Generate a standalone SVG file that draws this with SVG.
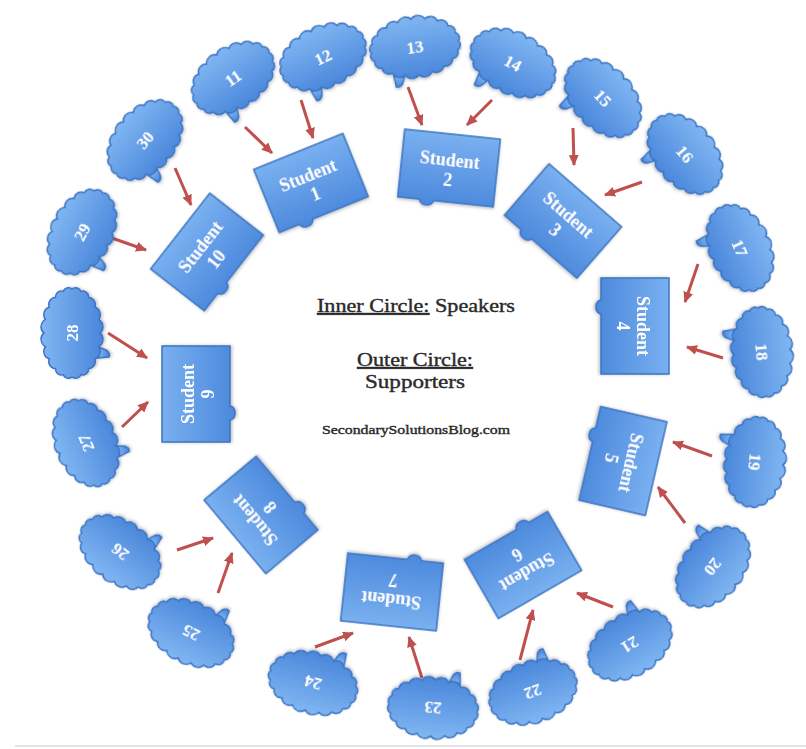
<svg xmlns="http://www.w3.org/2000/svg" width="806" height="749" viewBox="0 0 806 749">
<style>
.shape{stroke:#3d74c2;stroke-width:1.5}
.box{fill:url(#gb)}
.cl{fill:url(#gc)}
.node{filter:url(#sh)}
.lbl{font-family:"Liberation Serif","DejaVu Serif",serif;font-weight:bold;fill:#ffffff;text-anchor:middle;font-size:18px}
.num{font-size:17px}
.arrow{stroke:#c0504d;stroke-width:3;fill:none;marker-end:url(#ah)}
.ctr{font-family:"Liberation Serif","DejaVu Serif",serif;fill:#2a2a2a;stroke:#2a2a2a;stroke-width:0.4;text-anchor:middle}
</style>
<defs>
<filter id="sh" x="-20%" y="-20%" width="140%" height="140%">
<feDropShadow dx="0" dy="1.5" stdDeviation="1.5" flood-color="#000000" flood-opacity="0.25"/>
</filter>
<linearGradient id="gb" x1="0" y1="0" x2="0" y2="1">
<stop offset="0" stop-color="#79b0f0"/>
<stop offset="1" stop-color="#4b88dc"/>
</linearGradient>
<linearGradient id="gc" x1="0" y1="0" x2="0" y2="1">
<stop offset="0" stop-color="#80b6f2"/>
<stop offset="1" stop-color="#4a87db"/>
</linearGradient>
<marker id="ah" markerWidth="11" markerHeight="10" refX="10" refY="5" orient="auto" markerUnits="userSpaceOnUse" viewBox="0 0 11 10">
<path d="M0,0 L11,5 L0,10 Z" fill="#c0504d"/>
</marker>
<path id="boxShape" class="shape box" d="M-48,-34 H48 V34 H-12 A7,5 0 0 1 -26,34 H-48 Z"/>
<g id="cloud">
<path class="shape cl" d="M-25,26 L-24,37 Q-20,38.5 -17,34 L-14,27 Z"/>
<path class="shape cl" d="M44,0 A5.5,5.5 0 0 1 41.8,8.7 A6,6 0 0 1 35.6,16.5 A7,7 0 0 1 25.9,22.7 A7.8,7.8 0 0 1 13.6,26.6 A8.3,8.3 0 0 1 0,28 A8.3,8.3 0 0 1 -13.6,26.6 A7.8,7.8 0 0 1 -25.9,22.7 A7,7 0 0 1 -35.6,16.5 A6,6 0 0 1 -41.8,8.7 A5.5,5.5 0 0 1 -44,0 A5.5,5.5 0 0 1 -41.8,-8.7 A6,6 0 0 1 -35.6,-16.5 A7,7 0 0 1 -25.9,-22.7 A7.8,7.8 0 0 1 -13.6,-26.6 A8.3,8.3 0 0 1 0,-28 A8.3,8.3 0 0 1 13.6,-26.6 A7.8,7.8 0 0 1 25.9,-22.7 A7,7 0 0 1 35.6,-16.5 A6,6 0 0 1 41.8,-8.7 A5.5,5.5 0 0 1 44,0 Z"/>
</g>
</defs>
<rect x="0" y="0" width="806" height="749" fill="#ffffff"/>
<line x1="15" y1="746" x2="806" y2="746" stroke="#e2e2e2" stroke-width="2"/>

<g id="connectors">
<line class="arrow" x1="245" y1="127" x2="272" y2="153"/>
<line class="arrow" x1="301" y1="100" x2="313" y2="138"/>
<line class="arrow" x1="408" y1="87" x2="422" y2="125"/>
<line class="arrow" x1="492" y1="100" x2="467" y2="125"/>
<line class="arrow" x1="573" y1="128" x2="574" y2="165"/>
<line class="arrow" x1="642" y1="182" x2="605" y2="195"/>
<line class="arrow" x1="698" y1="264" x2="685" y2="302"/>
<line class="arrow" x1="723" y1="358" x2="687" y2="347"/>
<line class="arrow" x1="712" y1="456" x2="673" y2="442"/>
<line class="arrow" x1="685" y1="523" x2="658" y2="487"/>
<line class="arrow" x1="613" y1="607" x2="577" y2="593"/>
<line class="arrow" x1="520" y1="660" x2="533" y2="610"/>
<line class="arrow" x1="422" y1="678" x2="409" y2="637"/>
<line class="arrow" x1="315" y1="647" x2="353" y2="633"/>
<line class="arrow" x1="218" y1="593" x2="232" y2="553"/>
<line class="arrow" x1="177" y1="550" x2="213" y2="538"/>
<line class="arrow" x1="122" y1="427" x2="148" y2="402"/>
<line class="arrow" x1="108" y1="333" x2="147" y2="358"/>
<line class="arrow" x1="109" y1="237" x2="146" y2="250"/>
<line class="arrow" x1="175" y1="168" x2="191" y2="205"/>
</g>

<g id="s1" class="node" transform="translate(311,183) rotate(-22)"><use href="#boxShape"/><text class="lbl" y="-2">Student</text><text class="lbl" y="18">1</text></g>
<g id="s2" class="node" transform="translate(449,168) rotate(6)"><use href="#boxShape"/><text class="lbl" y="-2">Student</text><text class="lbl" y="18">2</text></g>
<g id="s3" class="node" transform="translate(563,221) rotate(41)"><use href="#boxShape"/><text class="lbl" y="-2">Student</text><text class="lbl" y="18">3</text></g>
<g id="s4" class="node" transform="translate(635,326) rotate(90)"><use href="#boxShape"/><text class="lbl" y="-2">Student</text><text class="lbl" y="18">4</text></g>
<g id="s5" class="node" transform="translate(623,461) rotate(103)"><use href="#boxShape"/><text class="lbl" y="-2">Student</text><text class="lbl" y="18">5</text></g>
<g id="s6" class="node" transform="translate(523,565) rotate(150)"><use href="#boxShape"/><text class="lbl" y="-2">Student</text><text class="lbl" y="18">6</text></g>
<g id="s7" class="node" transform="translate(392,592) rotate(186)"><use href="#boxShape"/><text class="lbl" y="-2">Student</text><text class="lbl" y="18">7</text></g>
<g id="s8" class="node" transform="translate(261,515) rotate(230)"><use href="#boxShape"/><text class="lbl" y="-2">Student</text><text class="lbl" y="18">8</text></g>
<g id="s9" class="node" transform="translate(196,394) rotate(270)"><use href="#boxShape"/><text class="lbl" y="-2">Student</text><text class="lbl" y="18">9</text></g>
<g id="s10" class="node" transform="translate(207,252) rotate(-52)"><use href="#boxShape"/><text class="lbl" y="-2">Student</text><text class="lbl" y="18">10</text></g>

<g id="c11" class="node" transform="translate(233,78) rotate(-35)"><use href="#cloud"/><text class="lbl num" y="6">11</text></g>
<g id="c12" class="node" transform="translate(323,57) rotate(-25)"><use href="#cloud"/><text class="lbl num" y="6">12</text></g>
<g id="c13" class="node" transform="translate(415,47) rotate(-8)"><use href="#cloud"/><text class="lbl num" y="6">13</text></g>
<g id="c14" class="node" transform="translate(513,63) rotate(28)"><use href="#cloud"/><text class="lbl num" y="6">14</text></g>
<g id="c15" class="node" transform="translate(603,98) rotate(47)"><use href="#cloud"/><text class="lbl num" y="6">15</text></g>
<g id="c16" class="node" transform="translate(685,154) rotate(50)"><use href="#cloud"/><text class="lbl num" y="6">16</text></g>
<g id="c17" class="node" transform="translate(740,248) rotate(66)"><use href="#cloud"/><text class="lbl num" y="6">17</text></g>
<g id="c18" class="node" transform="translate(762,352) rotate(85)"><use href="#cloud"/><text class="lbl num" y="6">18</text></g>
<g id="c19" class="node" transform="translate(755,462) rotate(96)"><use href="#cloud"/><text class="lbl num" y="6">19</text></g>
<g id="c20" class="node" transform="translate(713,567) rotate(128)"><use href="#cloud"/><text class="lbl num" y="6">20</text></g>
<g id="c21" class="node" transform="translate(630,645) rotate(148)"><use href="#cloud"/><text class="lbl num" y="6">21</text></g>
<g id="c22" class="node" transform="translate(533,692) rotate(160)"><use href="#cloud"/><text class="lbl num" y="6">22</text></g>
<g id="c23" class="node" transform="translate(433,708) rotate(185)"><use href="#cloud"/><text class="lbl num" y="6">23</text></g>
<g id="c24" class="node" transform="translate(313,683) rotate(196)"><use href="#cloud"/><text class="lbl num" y="6">24</text></g>
<g id="c25" class="node" transform="translate(191,633) rotate(207)"><use href="#cloud"/><text class="lbl num" y="6">25</text></g>
<g id="c26" class="node" transform="translate(120,552) rotate(218)"><use href="#cloud"/><text class="lbl num" y="6">26</text></g>
<g id="c27" class="node" transform="translate(86,443) rotate(248)"><use href="#cloud"/><text class="lbl num" y="6">27</text></g>
<g id="c28" class="node" transform="translate(72,333) rotate(270)"><use href="#cloud"/><text class="lbl num" y="6">28</text></g>
<g id="c29" class="node" transform="translate(82,232) rotate(-62)"><use href="#cloud"/><text class="lbl num" y="6">29</text></g>
<g id="c30" class="node" transform="translate(145,140) rotate(-50)"><use href="#cloud"/><text class="lbl num" y="6">30</text></g>

<g id="center-text">
<text class="ctr" x="416" y="312" font-size="19" textLength="198" lengthAdjust="spacingAndGlyphs"><tspan text-decoration="underline">Inner Circle:</tspan> Speakers</text>
<text class="ctr" x="415" y="366" font-size="19" text-decoration="underline" textLength="116" lengthAdjust="spacingAndGlyphs">Outer Circle:</text>
<text class="ctr" x="415" y="388" font-size="19" textLength="100" lengthAdjust="spacingAndGlyphs">Supporters</text>
<text class="ctr" x="416" y="434" font-size="13" stroke-width="0.2" textLength="188" lengthAdjust="spacingAndGlyphs">SecondarySolutionsBlog.com</text>
</g>
</svg>
